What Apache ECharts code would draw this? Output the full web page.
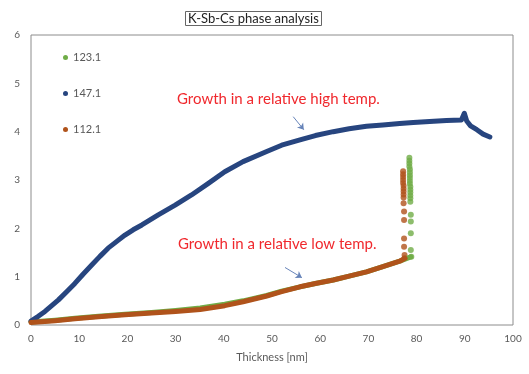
<!DOCTYPE html>
<html>
<head>
<meta charset="utf-8">
<script src="https://cdn.jsdelivr.net/npm/echarts@6/dist/echarts.min.js"></script>
<style>
  html, body { margin: 0; padding: 0; background: #fff; }
  #chart { width: 529px; height: 374px; }
</style>
</head>
<body>
<div id="chart"></div>
<script>
// x ticks / y ticks
var xTicks = [0, 10, 20, 30, 40, 50, 60, 70, 80, 90, 100]
var yTicks = [0, 1, 2, 3, 4, 5, 6]

// 147.1 (high temp)
var highX = [0, 1.5, 2.9, 4.3, 5.7, 7.4, 9.1, 10.8, 12.6, 14.3, 16.0, 17.8, 19.5, 21.2, 23.0, 26.4, 29.9, 33.3, 36.8, 40.2, 44, 48.9, 52, 55.8, 59, 62.7, 66, 69.6, 73, 76.5, 79.3, 82.7, 86.2, 89.3, 89.9, 90.4, 91.2, 92.5, 93.8, 95.2]
var highY = [0.08, 0.18, 0.28, 0.40, 0.52, 0.69, 0.86, 1.05, 1.24, 1.42, 1.59, 1.73, 1.86, 1.97, 2.07, 2.28, 2.48, 2.69, 2.93, 3.17, 3.38, 3.59, 3.72, 3.83, 3.92, 4.0, 4.06, 4.11, 4.14, 4.17, 4.19, 4.21, 4.23, 4.24, 4.38, 4.22, 4.12, 4.04, 3.95, 3.89]

// 123.1 (low temp, green)
var greenX = [0, 5, 9.1, 14, 19.5, 25, 30, 35.1, 40.2, 44, 48.9, 52, 55.8, 59, 62.7, 66, 69.6, 73, 76.5, 78.8]
var greenY = [0.06, 0.10, 0.14, 0.18, 0.22, 0.26, 0.30, 0.35, 0.43, 0.50, 0.61, 0.70, 0.79, 0.86, 0.93, 1.01, 1.10, 1.21, 1.32, 1.41]
var greenColX = [78.5, 78.5, 78.5, 78.5, 78.6, 78.6, 78.6, 78.6, 78.6, 78.6, 78.7, 78.7, 78.7, 78.7, 78.7, 78.7, 78.8, 78.8, 78.8, 78.8, 78.9]
var greenColY = [3.46, 3.40, 3.34, 3.28, 3.22, 3.16, 3.10, 3.04, 2.98, 2.92, 2.86, 2.80, 2.74, 2.68, 2.62, 2.55, 2.28, 2.14, 1.90, 1.55, 1.41]

// 112.1 (low temp, brown)
var brownX = [0, 5, 9.1, 14, 19.5, 25, 30, 35.1, 40.2, 44, 48.9, 52, 55.8, 59, 62.7, 66, 69.6, 73, 76.5, 77.6]
var brownY = [0.05, 0.09, 0.13, 0.17, 0.21, 0.25, 0.28, 0.32, 0.40, 0.48, 0.60, 0.69, 0.79, 0.86, 0.93, 1.01, 1.10, 1.21, 1.32, 1.38]
var brownColX = [77.2, 77.2, 77.2, 77.2, 77.2, 77.3, 77.3, 77.3, 77.3, 77.3, 77.3, 77.4, 77.4, 77.4, 77.4, 77.5, 77.5]
var brownColY = [3.18, 3.12, 3.06, 3.00, 2.94, 2.88, 2.82, 2.76, 2.70, 2.64, 2.52, 2.35, 2.17, 1.79, 1.62, 1.45, 1.38]

function pairs(xs, ys) {
  return xs.map(function(x, i) { return [x, ys[i]] })
}

var font = 'Lato, "Open Sans", sans-serif'
var grey = '#595959'

var chart = echarts.init(document.getElementById('chart'))
chart.setOption({
  animation: false,
  textStyle: { fontFamily: font },
  title: {
    text: 'K-Sb-Cs phase analysis',
    left: 185,
    top: 11,
    padding: [1, 3],
    borderWidth: 1,
    borderColor: '#666',
    textStyle: { fontSize: 13, fontWeight: 'normal', color: '#222', fontFamily: font }
  },
  legend: {
    orient: 'vertical',
    left: 58,
    top: 47,
    icon: 'circle',
    itemWidth: 5,
    itemHeight: 5,
    itemGap: 25,
    data: ['123.1', '147.1', '112.1'],
    textStyle: { color: grey, fontSize: 11, fontFamily: font }
  },
  grid: {
    left: 31,
    right: 16,
    top: 35,
    bottom: 49,
    show: true,
    borderColor: '#8c8c8c',
    borderWidth: 1
  },
  xAxis: {
    type: 'value',
    min: xTicks[0],
    max: xTicks[xTicks.length - 1],
    interval: 10,
    name: 'Thickness [nm]',
    nameLocation: 'middle',
    nameGap: 27,
    nameTextStyle: { color: grey, fontSize: 11, fontFamily: font },
    axisLine: { show: false },
    axisTick: { show: false },
    splitLine: { show: false },
    axisLabel: { color: grey, fontSize: 10, margin: 9 }
  },
  yAxis: {
    type: 'value',
    min: yTicks[0],
    max: yTicks[yTicks.length - 1],
    interval: 1,
    axisLine: { show: false },
    axisTick: { show: false },
    splitLine: { show: false },
    axisLabel: { color: grey, fontSize: 10, margin: 11 }
  },
  series: [
    {
      name: '123.1',
      type: 'line',
      data: pairs(greenX, greenY),
      showSymbol: false,
      color: '#70ad47',
      lineStyle: { width: 5, cap: 'round', join: 'round' }
    },
    {
      name: '123.1',
      type: 'scatter',
      data: pairs(greenColX, greenColY),
      symbolSize: 6,
      color: '#70ad47'
    },
    {
      name: '147.1',
      type: 'line',
      data: pairs(highX, highY),
      showSymbol: false,
      color: '#27457f',
      lineStyle: { width: 5, cap: 'round', join: 'round' },
      markLine: {
        silent: true,
        symbol: ['none', 'arrow'],
        symbolSize: 6,
        label: { show: false },
        lineStyle: { color: '#6683b8', width: 1, type: 'solid' },
        data: [
          [{ coord: [54.4, 4.31] }, { coord: [56.6, 4.04] }],
          [{ coord: [52.7, 1.19] }, { coord: [56.2, 0.98] }]
        ]
      }
    },
    {
      name: '112.1',
      type: 'line',
      data: pairs(brownX, brownY),
      showSymbol: false,
      color: '#b0531b',
      lineStyle: { width: 5, cap: 'round', join: 'round' }
    },
    {
      name: '112.1',
      type: 'scatter',
      data: pairs(brownColX, brownColY),
      symbolSize: 6,
      color: '#b0531b'
    }
  ],
  graphic: [
    {
      type: 'text',
      left: 177,
      top: 92,
      style: { text: 'Growth in a relative high temp.', fill: '#f0282d', font: '15px ' + font }
    },
    {
      type: 'text',
      left: 178,
      top: 237,
      style: { text: 'Growth in a relative low temp.', fill: '#f0282d', font: '15px ' + font }
    }
  ]
})
</script>
</body>
</html>
